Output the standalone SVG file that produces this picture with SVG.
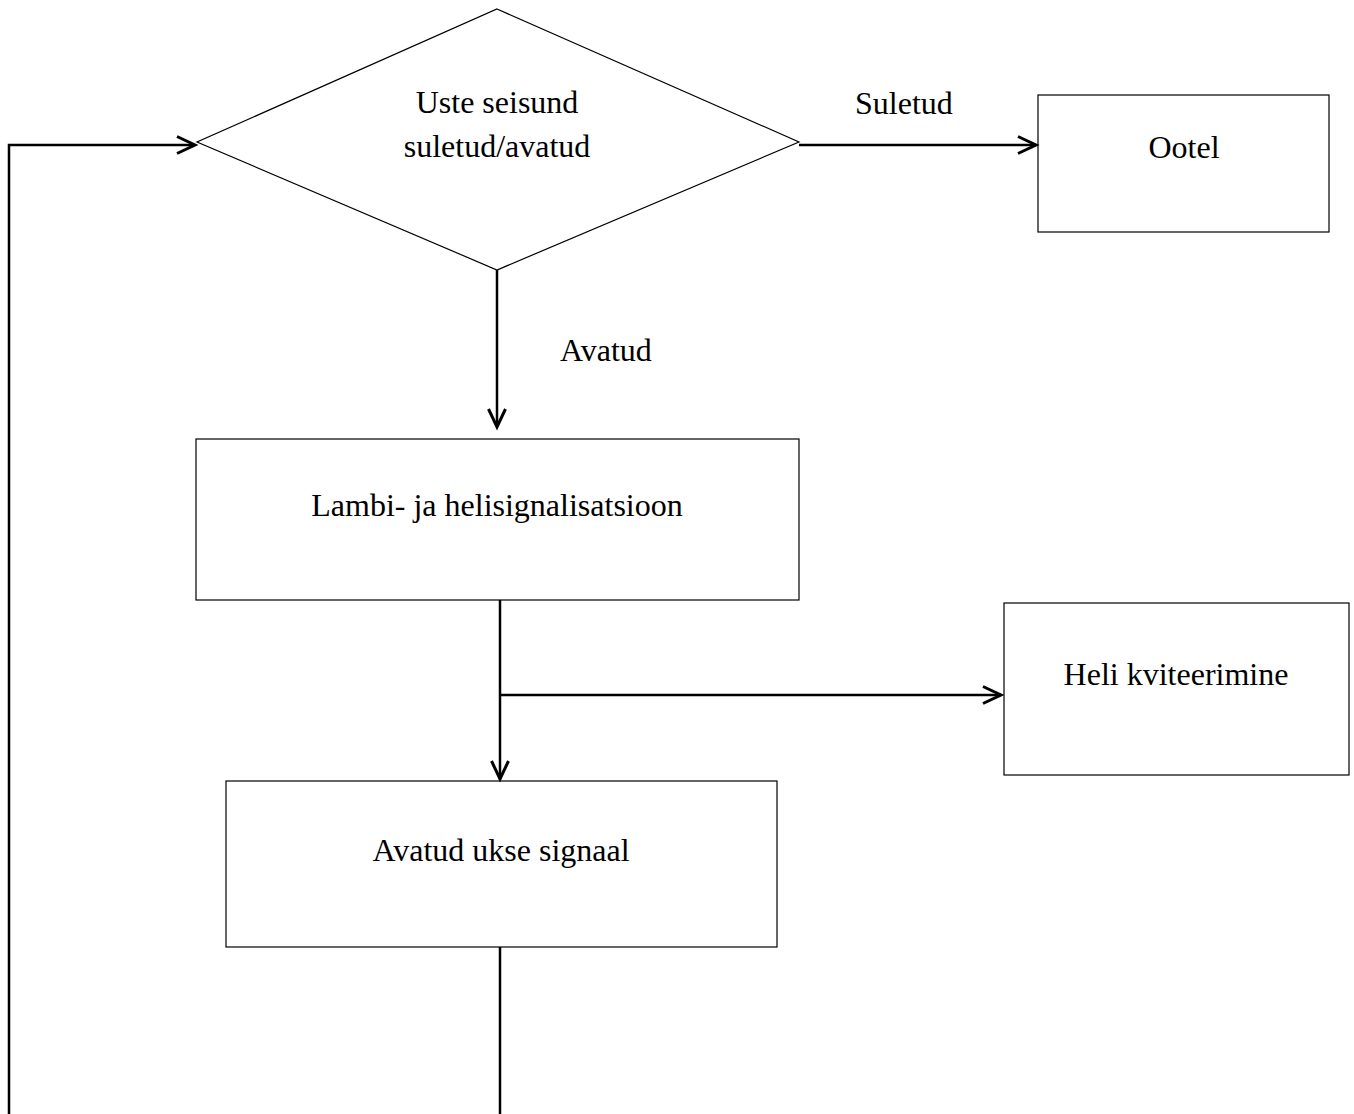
<svg xmlns="http://www.w3.org/2000/svg" width="1354" height="1114" viewBox="0 0 1354 1114">
<style>
.box{fill:#fff;stroke:#000;stroke-width:1.2}
.t{font-family:"Liberation Serif","Times New Roman",serif;font-size:32px;fill:#000}
.c{fill:none;stroke:#000;stroke-width:2.5}
</style>
<defs>
<marker id="ah" markerWidth="24" markerHeight="24" refX="20" refY="10" orient="auto" markerUnits="userSpaceOnUse">
<path d="M2,1.5 L20,10 L2,18.5" fill="none" stroke="#000" stroke-width="3"/>
</marker>
</defs>
<rect width="1354" height="1114" fill="#fff"/>
<g id="decision">
<polygon class="box" points="497,9 799,142 497,270 197,142"/>
<text class="t" x="497" y="113" text-anchor="middle">Uste seisund</text>
<text class="t" x="497" y="157" text-anchor="middle">suletud/avatud</text>
</g>
<g id="ootel">
<rect class="box" x="1038" y="95" width="291" height="137"/>
<text class="t" x="1184" y="158" text-anchor="middle">Ootel</text>
</g>
<g id="lambi">
<rect class="box" x="196" y="439" width="603" height="161"/>
<text class="t" x="497" y="516" text-anchor="middle">Lambi- ja helisignalisatsioon</text>
</g>
<g id="heli">
<rect class="box" x="1004" y="603" width="345" height="172"/>
<text class="t" x="1176" y="685" text-anchor="middle">Heli kviteerimine</text>
</g>
<g id="avatudukse">
<rect class="box" x="226" y="781" width="551" height="166"/>
<text class="t" x="501" y="861" text-anchor="middle">Avatud ukse signaal</text>
</g>
<g id="connectors">
<path class="c" d="M799,145 L1036,145" marker-end="url(#ah)"/>
<text class="t" x="855" y="114">Suletud</text>
<path class="c" d="M497,270 L497,427" marker-end="url(#ah)"/>
<text class="t" x="560" y="361">Avatud</text>
<path class="c" d="M500,600 L500,779" marker-end="url(#ah)"/>
<path class="c" d="M500,695 L1001,695" marker-end="url(#ah)"/>
<path class="c" d="M500,947 L500,1114"/>
<path class="c" d="M9,1114 L9,145 L195,145" marker-end="url(#ah)"/>
</g>
</svg>
